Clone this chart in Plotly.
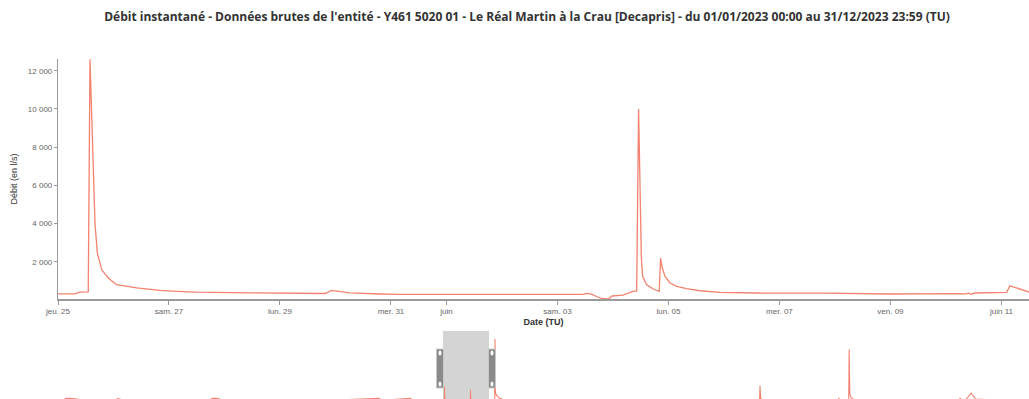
import plotly.graph_objects as go

# Débit instantané (l/s) — station Y461 5020 01, Le Réal Martin à la Crau, année 2023 (TU)
dates = [
    # janvier -> mai
    "2023-01-01 00:00", "2023-01-03 00:00", "2023-01-05 00:00", "2023-01-07 00:00",
    "2023-01-20 00:00", "2023-01-21 12:00", "2023-01-23 00:00",
    "2023-02-25 00:00", "2023-02-26 12:00", "2023-02-28 00:00", "2023-03-02 00:00",
    "2023-04-10 00:00", "2023-04-30 12:00", "2023-05-02 00:00",
    "2023-05-12 12:00", "2023-05-14 00:00", "2023-05-24 00:00",
    # 25 mai -> 11 juin
    "2023-05-25 00:00", "2023-05-25 07:20", "2023-05-25 09:30", "2023-05-25 13:05",
    "2023-05-25 13:50", "2023-05-25 14:30", "2023-05-25 15:15", "2023-05-25 16:00",
    "2023-05-25 17:00", "2023-05-25 18:55", "2023-05-25 21:45", "2023-05-26 01:20",
    "2023-05-26 10:00", "2023-05-26 20:00", "2023-05-27 03:20", "2023-05-27 12:00",
    "2023-05-28 11:00", "2023-05-29 16:00",
    "2023-05-29 19:30", "2023-05-29 22:20", "2023-05-30 06:15", "2023-05-30 19:15",
    "2023-05-31 04:00", "2023-06-03 11:00", "2023-06-03 12:45", "2023-06-03 15:00",
    "2023-06-03 17:05", "2023-06-03 19:40", "2023-06-03 22:15", "2023-06-03 23:35",
    "2023-06-04 04:20", "2023-06-04 08:40", "2023-06-04 10:15", "2023-06-04 11:05",
    "2023-06-04 11:35", "2023-06-04 12:00", "2023-06-04 12:15", "2023-06-04 12:50",
    "2023-06-04 14:35", "2023-06-04 17:25", "2023-06-04 20:00", "2023-06-04 20:35",
    "2023-06-04 21:10", "2023-06-04 22:30", "2023-06-05 00:40", "2023-06-05 03:35",
    "2023-06-05 07:50", "2023-06-05 13:40", "2023-06-05 22:15",
    "2023-06-06 14:15", "2023-06-07 18:50", "2023-06-08 23:45", "2023-06-10 04:45",
    "2023-06-10 08:40", "2023-06-10 09:50", "2023-06-10 10:45", "2023-06-10 12:30",
    "2023-06-11 02:15", "2023-06-11 03:40", "2023-06-11 09:15", "2023-06-11 11:55",
    # juin -> décembre
    "2023-06-11 18:00", "2023-06-12 12:00", "2023-06-13 16:00", "2023-06-13 19:00",
    "2023-06-13 23:00", "2023-06-14 06:00", "2023-06-15 12:00", "2023-06-17 00:00",
    "2023-06-25 00:00", "2023-07-20 00:00", "2023-08-20 00:00",
    "2023-09-22 10:00", "2023-09-22 14:00", "2023-09-22 20:00", "2023-09-24 00:00",
    "2023-10-10 00:00", "2023-10-22 10:00", "2023-10-22 14:00", "2023-10-22 20:00",
    "2023-10-26 08:00", "2023-10-26 12:00", "2023-10-26 18:00", "2023-10-27 12:00",
    "2023-10-29 00:00", "2023-11-20 00:00",
    "2023-12-07 12:00", "2023-12-07 17:00", "2023-12-08 00:00", "2023-12-10 00:00",
    "2023-12-11 22:00", "2023-12-13 12:00", "2023-12-20 00:00", "2023-12-31 23:00",
]
debits = [
    2300, 2600, 2100, 1500,
    1000, 2400, 1100,
    1200, 2700, 2500, 1300,
    700, 2500, 900,
    2500, 800, 330,
    313, 320, 415, 420,
    12600, 10100, 6640, 4000,
    2460, 1580, 1150, 800,
    630, 500, 450, 410,
    370, 330,
    340, 500, 370, 313,
    295, 295, 350, 290,
    170, 65, 60, 210,
    250, 450, 470, 10000,
    7500, 4000, 2280, 1230,
    800, 575, 450, 2190,
    1750, 1230, 890, 715,
    590, 485, 400,
    365, 355, 313, 330,
    315, 360, 300, 365,
    400, 745, 500, 418,
    380, 360, 380, 54000,
    8000, 5500, 2600, 1500,
    700, 320, 180,
    300, 13500, 2500, 900,
    500, 800, 3000, 900,
    600, 45000, 6000, 2400,
    1200, 900,
    1500, 2900, 1600, 1800,
    7000, 2000, 1200, 900,
]

tick_dates = ["2023-05-25", "2023-05-27", "2023-05-29", "2023-05-31", "2023-06-01",
              "2023-06-03", "2023-06-05", "2023-06-07", "2023-06-09", "2023-06-11"]
tick_labels = ["jeu. 25", "sam. 27", "lun. 29", "mer. 31", "juin",
               "sam. 03", "lun. 05", "mer. 07", "ven. 09", "juin 11"]

view_start, view_end = "2023-05-25 00:00", "2023-06-11 11:55"
year_start, year_end = "2023-01-01 00:00", "2024-01-01 00:00"

W, H = 1029, 399
M_L, M_T = 58, 59
PLOT_H = H - M_T
LINE = "#f3826f"
AXIS = "#9a9a9a"


def py(px):
    """page pixel row -> paper fraction"""
    return (H - px) / PLOT_H


fig = go.Figure()
fig.add_trace(go.Scatter(x=dates, y=debits, mode="lines", xaxis="x", yaxis="y",
                         line=dict(color=LINE, width=1.3), hoverinfo="skip",
                         showlegend=False))
fig.add_trace(go.Scatter(x=dates, y=debits, mode="lines", xaxis="x2", yaxis="y2",
                         line=dict(color=LINE, width=1.1, simplify=False),
                         hoverinfo="skip", showlegend=False))

tick_font = dict(family="Liberation Sans, Arial, sans-serif", size=8, color="#666")
title_font = dict(family="Liberation Sans, Arial, sans-serif", size=9, color="#333")

fig.update_layout(
    width=W, height=H,
    margin=dict(l=M_L, r=0, t=M_T, b=0),
    paper_bgcolor="white", plot_bgcolor="white",
    separators=", ",
    title=dict(
        text="<b>Débit instantané - Données brutes de l'entité - Y461 5020 01 - Le Réal Martin à la Crau [Decapris] - du 01/01/2023 00:00 au 31/12/2023 23:59 (TU)</b>",
        font=dict(family="Open Sans, sans-serif", size=12, color="#333"),
        x=527 / W, xref="container", xanchor="center",
        y=1 - 17 / H, yref="container", yanchor="middle",
    ),
    xaxis=dict(
        domain=[0, 1], anchor="y", type="date",
        range=[view_start, view_end],
        tickmode="array", tickvals=tick_dates, ticktext=tick_labels,
        ticks="outside", ticklen=4, tickcolor=AXIS, tickwidth=1,
        showline=True, linecolor=AXIS, linewidth=1.5,
        showgrid=False, zeroline=False, tickfont=tick_font,
        title=dict(text="<b>Date (TU)</b>", font=title_font, standoff=3),
    ),
    yaxis=dict(
        domain=[py(299), 1], anchor="x",
        range=[52, 12613],
        tickmode="linear", tick0=2000, dtick=2000, tickformat=",d",
        ticks="outside", ticklen=3, tickcolor=AXIS, tickwidth=1,
        showline=True, linecolor=AXIS, linewidth=1.2,
        showgrid=False, zeroline=False, tickfont=tick_font,
        title=dict(text="Débit (en l/s)", font=title_font, standoff=8),
    ),
    xaxis2=dict(
        domain=[6.4 / (W - M_L), 966 / (W - M_L)], anchor="y2", type="date",
        range=[year_start, year_end], visible=False,
    ),
    yaxis2=dict(
        domain=[0, py(331)], anchor="x2",
        range=[2000, 61000], visible=False,
    ),
)

# brush over the navigator, marking the displayed period
shapes = [dict(type="rect", xref="x2", yref="paper", x0=view_start, x1=view_end,
               y0=0, y1=py(331), fillcolor="#d4d4d4", line=dict(width=0),
               layer="below")]
for edge, (a, b) in ((view_start, (-6.5, 0.5)), (view_end, (-0.5, 6.5))):
    shapes.append(dict(type="rect", xref="x2", xsizemode="pixel", xanchor=edge,
                       x0=a, x1=b, yref="paper", y0=py(388), y1=py(349),
                       fillcolor="#8a8a8a", line=dict(color="#c8c8c8", width=1),
                       layer="above"))
    cx = (a + b) / 2
    for cy in (353, 384):
        shapes.append(dict(type="circle", xref="x2", xsizemode="pixel", xanchor=edge,
                           x0=cx - 1.5, x1=cx + 1.5, yref="paper",
                           y0=py(cy + 2.5), y1=py(cy - 2.5),
                           fillcolor="white", line=dict(width=0), layer="above"))
fig.update_layout(shapes=shapes)

fig.write_html("out.html")
